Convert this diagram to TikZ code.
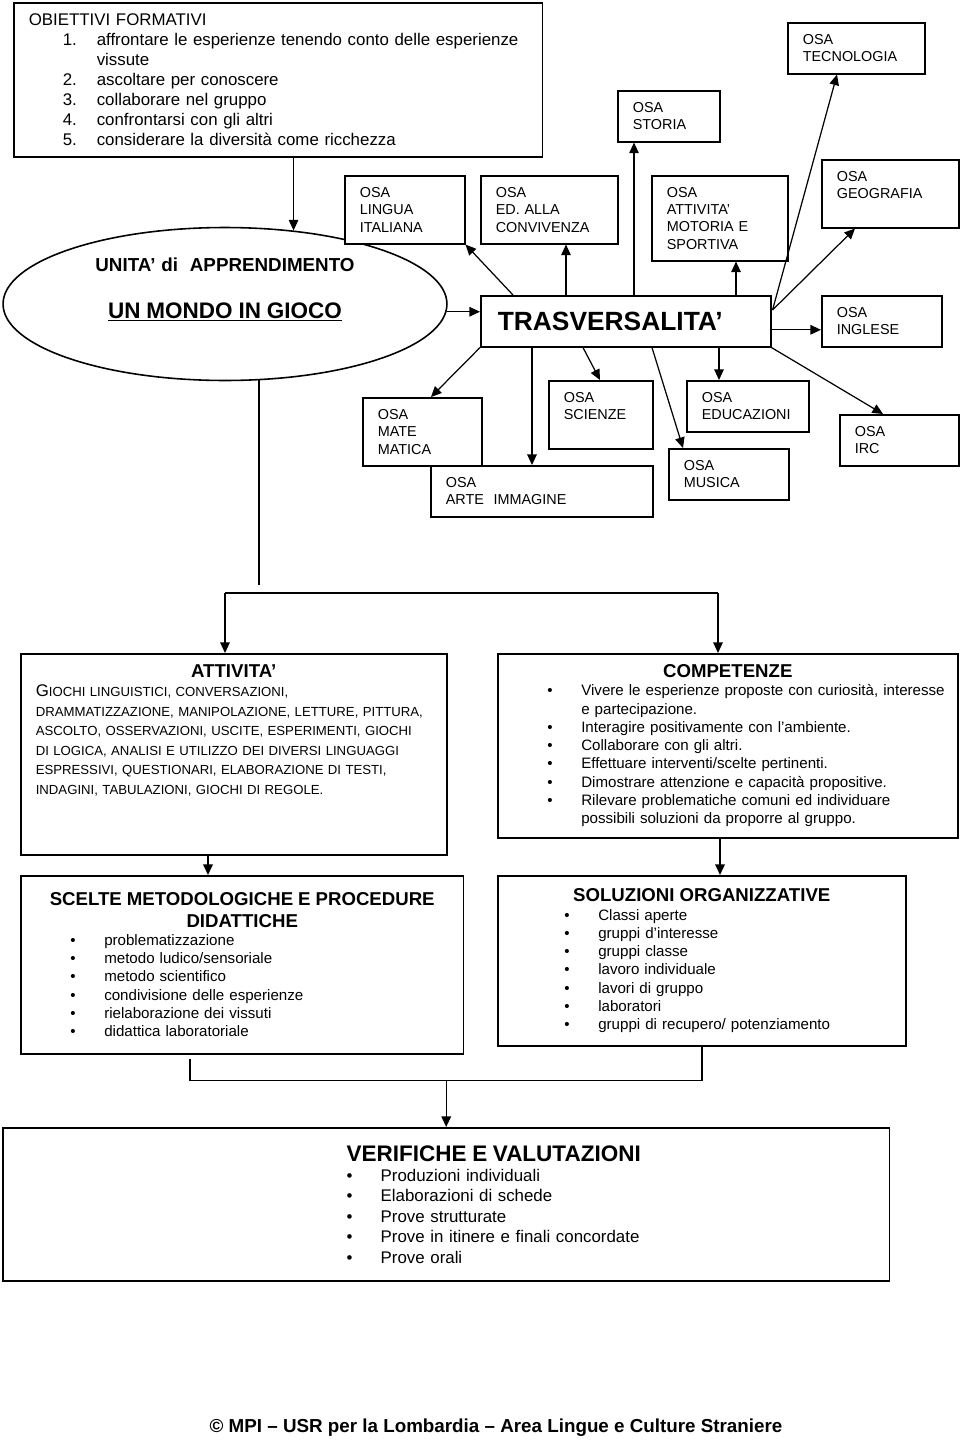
\documentclass[tikz,border=0pt]{standalone}
\usepackage{fontspec}
\setmainfont{Liberation Sans}
\usetikzlibrary{positioning,arrows.meta,shapes.geometric,calc}

\newcommand{\bulletrow}[2]{\hspace*{#1}\makebox[0.68cm][l]{\textbullet}#2}

\tikzset{
  osa/.style={draw, fill=white, line width=0.9pt, anchor=north west, align=left,
    inner xsep=0.3cm, inner ysep=0pt, font=\fontsize{8.2}{9.9}\selectfont},
  panel/.style={draw, fill=white, line width=0.9pt, anchor=north west, align=left,
    inner xsep=0.3cm, inner ysep=0pt, font=\fontsize{8.6}{10.4}\selectfont},
  link/.style={line width=0.7pt, -{Triangle[length=6pt,width=5.4pt]}},
  wire/.style={line width=0.7pt}
}

\begin{document}
\begin{tikzpicture}[x=0.02cm, y=-0.02cm]
    \useasboundingbox (0,0) rectangle (960,1440);

    % unita' di apprendimento
    \node[draw, ellipse, line width=0.9pt, minimum width=8.88cm, minimum height=3.06cm, inner sep=0pt,
      text width=5.6cm, align=center, text depth=1.59cm, font=\bfseries] (ell) at (225,304)
      {{\fontsize{10.7}{13}\selectfont UNITA’ di\ \ APPRENDIMENTO\par}
       {\fontsize{12.8}{26.8}\selectfont\underline{UN MONDO IN GIOCO}\par}};

    \node[osa, font=\fontsize{9.6}{11.4}\selectfont, text width=9.98cm, minimum height=3.08cm] (obiettivi) at (13,2)
      {OBIETTIVI FORMATIVI\\
       \hspace*{0.68cm}\makebox[0.68cm][l]{1.}affrontare le esperienze tenendo conto delle esperienze\\
       \hspace*{1.36cm}vissute\\
       \hspace*{0.68cm}\makebox[0.68cm][l]{2.}ascoltare per conoscere\\
       \hspace*{0.68cm}\makebox[0.68cm][l]{3.}collaborare nel gruppo\\
       \hspace*{0.68cm}\makebox[0.68cm][l]{4.}confrontarsi con gli altri\\
       \hspace*{0.68cm}\makebox[0.68cm][l]{5.}considerare la diversità come ricchezza};

    % osa
    \node[osa, text width=1.8cm, minimum height=1.36cm] (lingua) at (344,175) {OSA\\LINGUA\\ITALIANA};
    \node[osa, text width=2.14cm, minimum height=1.36cm] (convivenza) at (480,175) {OSA\\ED. ALLA\\CONVIVENZA};
    \node[osa, text width=1.44cm, minimum height=1.02cm] (storia) at (617,90) {OSA\\STORIA};
    \node[osa, text width=2.14cm, minimum height=1.02cm] (tecnologia) at (787,22) {OSA\\TECNOLOGIA};
    \node[osa, text width=2.12cm, minimum height=1.7cm] (motoria) at (651,175) {OSA\\ATTIVITA’\\MOTORIA E\\SPORTIVA};
    \node[osa, text width=2.14cm, minimum height=1.36cm, text depth=0.7cm] (geografia) at (821,159) {OSA\\GEOGRAFIA};
    \node[osa, text width=1.8cm, minimum height=1.02cm] (inglese) at (821,295) {OSA\\INGLESE};
    \node[osa, inner xsep=0.34cm, text width=5.12cm, minimum height=1.02cm, font=\fontsize{15}{17}\selectfont\bfseries] (trasv) at (480,295) {TRASVERSALITA’};

    \node[osa, text width=1.78cm, minimum height=1.36cm] (mate) at (362,397) {OSA\\MATE\\MATICA};
    \node[osa, text width=3.84cm, minimum height=1.02cm] (arte) at (430,465) {OSA\\ARTE\ \ IMMAGINE};
    \node[osa, text width=1.48cm, minimum height=1.36cm, text depth=0.7cm] (scienze) at (548,380) {OSA\\SCIENZE};
    \node[osa, text width=1.84cm, minimum height=1.02cm] (educazioni) at (686,380) {OSA\\EDUCAZIONI};
    \node[osa, text width=1.8cm, minimum height=1.02cm] (musica) at (668,448) {OSA\\MUSICA};
    \node[osa, text width=1.78cm, minimum height=1.02cm] (irc) at (839,414) {OSA\\IRC};

    \draw[link] (obiettivi.south -| ell.47) -- (ell.47);
    \draw[link] (ell.-2) -- (ell.-2 -| trasv.west);

    \draw[link] ($(trasv.north west)+(33,0)$) -- (lingua.south east);
    \draw[link] ($(trasv.north west)+(86,0)$) coordinate (t1) -- (t1 |- convivenza.south);
    \draw[link] ($(trasv.north west)+(154,0)$) coordinate (t2) -- (t2 |- storia.south);
    \draw[link] ($(trasv.north west)+(256,0)$) coordinate (t3) -- (t3 |- motoria.south);
    \draw[link] ($(trasv.north east)+(1,15)$) -- ($(tecnologia.south west)+(50,0)$);
    \draw[link] ($(trasv.north east)+(1,15)$) -- ($(geografia.south west)+(34,0)$);
    \draw[link] ($(trasv.east)+(0,8.5)$) coordinate (t4) -- (t4 -| inglese.west);

    \draw[link] (trasv.south west) -- ($(mate.north west)+(69,0)$);
    \draw[link] ($(trasv.south west)+(52,0)$) coordinate (b1) -- (b1 |- arte.north);
    \draw[link] ($(trasv.south west)+(103,0)$) -- ($(scienze.north west)+(52,0)$);
    \draw[link] ($(trasv.south west)+(172,0)$) -- ($(musica.north west)+(15,0)$);
    \draw[link] ($(trasv.south west)+(239,0)$) coordinate (b2) -- (b2 |- educazioni.north);
    \draw[link] (trasv.south east) -- ($(irc.north west)+(44,0)$);

    % attivita', competenze, ...
    \node[panel, font=\fontsize{7.5}{11.1}\selectfont, text width=7.92cm, minimum height=4.02cm, text depth=3.33cm] (attivita) at (20,653)
      {{\fontsize{10.6}{12}\selectfont\bfseries\makebox[7.92cm]{ATTIVITA’}\par}
       {\fontsize{9.6}{11}\selectfont G}IOCHI LINGUISTICI, CONVERSAZIONI,\\
       DRAMMATIZZAZIONE, MANIPOLAZIONE, LETTURE, PITTURA,\\
       ASCOLTO, OSSERVAZIONI, USCITE, ESPERIMENTI, GIOCHI\\
       DI LOGICA, ANALISI E UTILIZZO DEI DIVERSI LINGUAGGI\\
       ESPRESSIVI, QUESTIONARI, ELABORAZIONE DI TESTI,\\
       INDAGINI, TABULAZIONI, GIOCHI DI REGOLE.};

    \node[panel, inner xsep=0.1cm, text width=9cm, minimum height=3.68cm] (competenze) at (497,653)
      {{\fontsize{10.6}{12}\selectfont\bfseries\makebox[9cm]{COMPETENZE}\par}
       \bulletrow{0.89cm}{Vivere le esperienze proposte con curiosità, interesse}\\
       \hspace*{1.57cm}e partecipazione.\\
       \bulletrow{0.89cm}{Interagire positivamente con l’ambiente.}\\
       \bulletrow{0.89cm}{Collaborare con gli altri.}\\
       \bulletrow{0.89cm}{Effettuare interventi/scelte pertinenti.}\\
       \bulletrow{0.89cm}{Dimostrare attenzione e capacità propositive.}\\
       \bulletrow{0.89cm}{Rilevare problematiche comuni ed individuare}\\
       \hspace*{1.57cm}possibili soluzioni da proporre al gruppo.};

    \node[panel, text width=8.26cm, minimum height=3.56cm] (scelte) at (20,875)
      {{\fontsize{10.6}{12.2}\selectfont\bfseries\makebox[8.26cm]{SCELTE METODOLOGICHE E PROCEDURE}\par
        \makebox[8.26cm]{DIDATTICHE}\par}
       \bulletrow{0.69cm}{problematizzazione}\\
       \bulletrow{0.69cm}{metodo ludico/sensoriale}\\
       \bulletrow{0.69cm}{metodo scientifico}\\
       \bulletrow{0.69cm}{condivisione delle esperienze}\\
       \bulletrow{0.69cm}{rielaborazione dei vissuti}\\
       \bulletrow{0.69cm}{didattica laboratoriale}};

    \node[panel, text width=7.56cm, minimum height=3.4cm] (soluzioni) at (497,875)
      {{\fontsize{10.6}{12}\selectfont\bfseries\makebox[7.56cm]{SOLUZIONI ORGANIZZATIVE}\par}
       \bulletrow{1.03cm}{Classi aperte}\\
       \bulletrow{1.03cm}{gruppi d’interesse}\\
       \bulletrow{1.03cm}{gruppi classe}\\
       \bulletrow{1.03cm}{lavoro individuale}\\
       \bulletrow{1.03cm}{lavori di gruppo}\\
       \bulletrow{1.03cm}{laboratori}\\
       \bulletrow{1.03cm}{gruppi di recupero/ potenziamento}};

    \node[panel, font=\fontsize{9.6}{11.6}\selectfont, text width=17.14cm, minimum height=3.06cm] (verifiche) at (2,1127)
      {{\fontsize{12.8}{14}\selectfont\bfseries\hspace*{6.58cm}VERIFICHE E VALUTAZIONI\par}
       \bulletrow{6.58cm}{Produzioni individuali}\\
       \bulletrow{6.58cm}{Elaborazioni di schede}\\
       \bulletrow{6.58cm}{Prove strutturate}\\
       \bulletrow{6.58cm}{Prove in itinere e finali concordate}\\
       \bulletrow{6.58cm}{Prove orali}};

    \node[font=\fontsize{10.7}{12}\selectfont\bfseries] (footer) at (496,1428)
      {© MPI – USR per la Lombardia – Area Lingue e Culture Straniere};

    \draw[wire] (ell.-66) -- ++(0,205);
    \coordinate (split l) at ($(attivita.north west)+(205,-60)$);
    \coordinate (split r) at ($(competenze.north west)+(221,-60)$);
    \draw[wire] (split l) -- (split r);
    \draw[link] (split l) -- (split l |- attivita.north);
    \draw[link] (split r) -- (split r |- competenze.north);
    \draw[link] ($(attivita.south west)+(188,0)$) coordinate (a1) -- (a1 |- scelte.north);
    \draw[link] ($(competenze.south west)+(223,0)$) coordinate (c1) -- (c1 |- soluzioni.north);
    \draw[wire] ($(scelte.south west)+(170,4)$) -- ++(0,22) coordinate (merge) -| ($(soluzioni.south west)+(205,0)$);
    \draw[link] (merge -| verifiche.north) -- (verifiche.north);

\end{tikzpicture}
\end{document}
